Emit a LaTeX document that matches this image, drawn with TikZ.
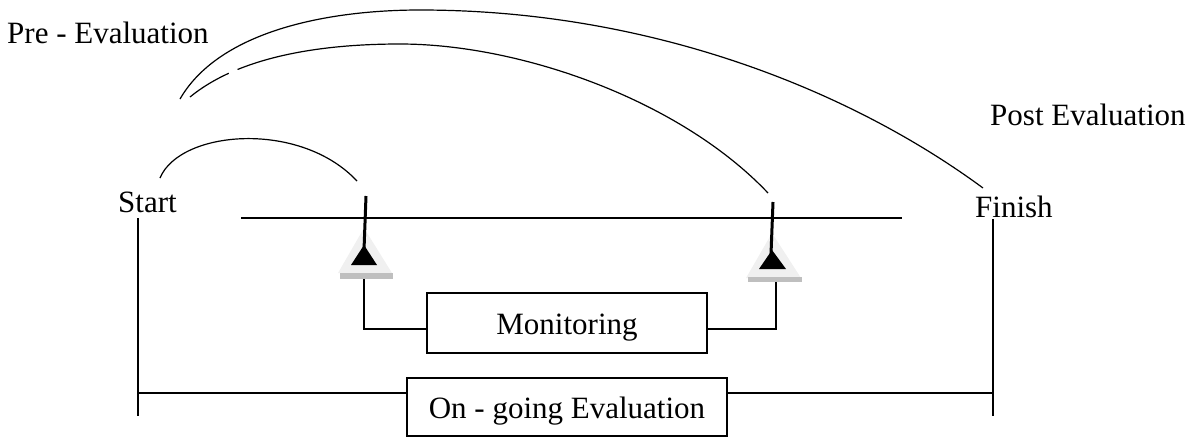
\documentclass[tikz,border=0pt]{standalone}
\usepackage{fontspec}
\setmainfont{Liberation Serif}
\begin{document}
\begin{tikzpicture}[x=1pt,y=-1pt,
  every node/.style={inner sep=0pt, font=\fontsize{31}{36}\selectfont},
  lbl/.style={anchor=base west},
  boxnode/.style={draw, line width=1.3pt, text height=22pt, text depth=0pt},
  ln/.style={line width=1.3pt},
  arcln/.style={line width=1.2pt},
  pin/.style={line width=3pt},
  lighttri/.style={fill=gray!12},
  shadowbar/.style={fill=gray!50},
  blacktri/.style={fill=black}]
\useasboundingbox (0,0) rectangle (1193,437);

% labels
\node[lbl] (pre) at (7,43) {Pre - Evaluation};
\node[lbl] (post) at (990,125) {Post Evaluation};
\node[lbl] (start) at (118,212) {Start};
\node[lbl] (finish) at (975,217) {Finish};

% boxes
\node[boxnode, minimum width=280pt, minimum height=60pt] (mon) at (567,323) {Monitoring};
\node[boxnode, minimum width=320pt, minimum height=58pt] (ongo) at (567,407) {On - going Evaluation};

% coordinates
\coordinate (sTop) at (138,218);
\coordinate (sBot) at (138,416);
\coordinate (fTop) at (993,219);
\coordinate (fBot) at (993,416);
\coordinate (sLine) at (138,393);
\coordinate (fLine) at (993,393);
\coordinate (midL) at (241,218);
\coordinate (midR) at (902,218);

% start / finish verticals and on-going line
\draw[ln] (sTop) -- (sBot);
\draw[ln] (fTop) -- (fBot);
\draw[ln] (sLine) -- (ongo.west |- sLine);
\draw[ln] (ongo.east |- fLine) -- (fLine);

% middle line
\draw[ln] (midL) -- (midR);

% left marker
\fill[lighttri] (364,228) -- (392,273) -- (338,273) -- cycle;
\fill[shadowbar] (340,273) rectangle (393,279);
\fill[blacktri] (364,245) -- (377,265) -- (351,265) -- cycle;
\coordinate (tlBot) at (364,279);
\draw[pin] (366,196) -- (364,250);

% right marker
\fill[lighttri] (772,233) -- (801,278) -- (746,278) -- cycle;
\fill[shadowbar] (748,277) rectangle (802,282);
\fill[blacktri] (772,250) -- (786,269) -- (759,269) -- cycle;
\coordinate (trBot) at (776,282);
\draw[pin] (773,202) -- (771,254);

% monitoring connectors
\draw[ln] (tlBot) |- ([yshift=-6pt]mon.west);
\draw[ln] (trBot) |- ([yshift=-6pt]mon.east);

% arcs
\coordinate (a1s) at (160,178);
\coordinate (a1e) at (357,181);
\draw[arcln] (a1s) .. controls (180,130) and (300,120) .. (a1e);

\coordinate (a2s) at (180,99);
\coordinate (a2m) at (420,10);
\coordinate (a2e) at (983,188);
\draw[arcln] (a2s) .. controls (220,30) and (330,10) .. (a2m)
  .. controls (650,10) and (850,90) .. (a2e);

\coordinate (a3s) at (190,97);
\coordinate (a3m) at (400,44);
\coordinate (a3e) at (768,193);
\draw[arcln] (a3s) .. controls (235,60) and (310,44) .. (a3m)
  .. controls (520,44) and (680,100) .. (a3e);
\draw[white, line width=5pt] (229,73.2) -- (237.5,69.6);
\end{tikzpicture}
\end{document}
